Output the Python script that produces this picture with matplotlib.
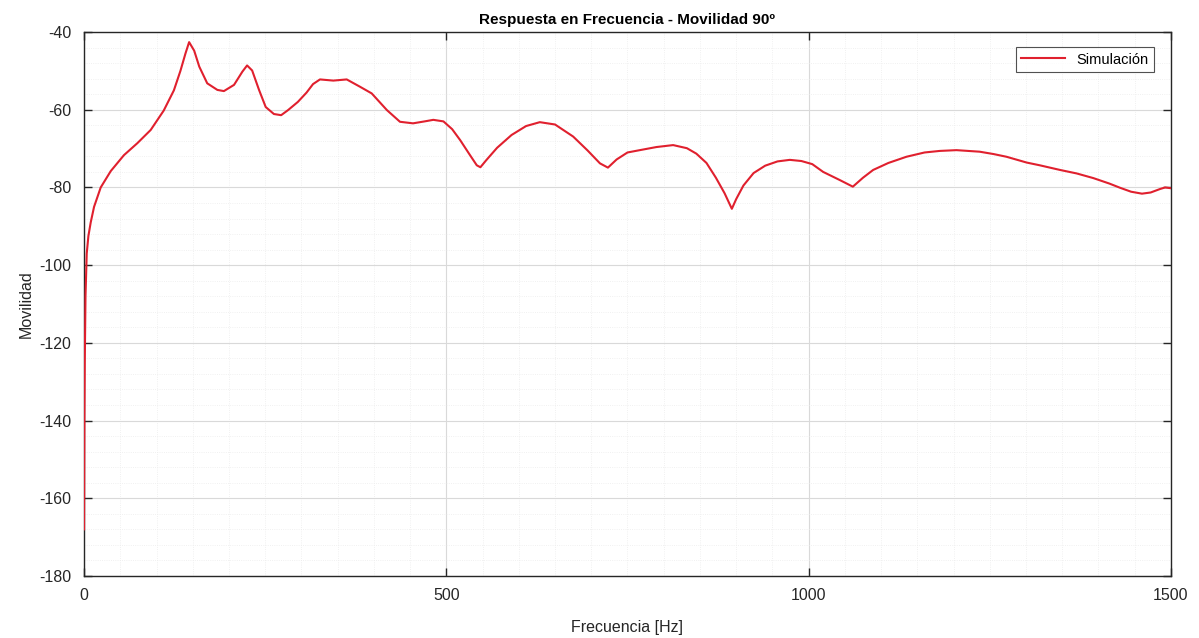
import matplotlib
matplotlib.use("Agg")
import matplotlib.pyplot as plt
from matplotlib.ticker import MultipleLocator

plt.rcParams['font.family'] = ['Liberation Sans', 'DejaVu Sans']
plt.rcParams['axes.unicode_minus'] = False

freq_hz = [0, 0.5, 1, 2, 3.7, 6, 9.2, 13.8, 23, 36.8, 55, 73.6, 92, 110, 124,
           133, 140, 145, 152, 159, 170, 184, 193, 207, 218.5, 225, 232,
           241.5, 250.7, 262, 272, 281.5, 295, 307, 316, 325.6, 344, 362.5,
           381, 397, 418, 436, 454, 470, 482, 496, 508, 519, 532, 542, 547,
           555, 570, 590, 610, 629, 650, 675, 695, 712, 723, 735, 750, 767,
           790, 813, 832, 845, 859, 872, 884, 894, 900, 910, 924, 940, 957,
           974, 990, 1005, 1020, 1043, 1061, 1075, 1089, 1110, 1135, 1160,
           1181, 1204, 1236, 1255, 1273, 1301, 1319, 1347, 1370, 1393, 1415,
           1430, 1445, 1460, 1472, 1485, 1492, 1500]
movilidad = [-168, -140, -125, -108, -97, -92.5, -89, -85, -80, -75.8, -71.7,
             -68.6, -65.2, -60.2, -55, -50, -45.5, -42.6, -44.8, -48.9, -53.2,
             -54.9, -55.2, -53.6, -50.2, -48.6, -49.9, -54.9, -59.3, -61.1,
             -61.4, -60.1, -58, -55.6, -53.4, -52.2, -52.5, -52.2, -54.1, -55.8,
             -60.1, -63.1, -63.5, -63.0, -62.6, -63.0, -65.0, -67.8, -71.5,
             -74.3, -74.8, -73.0, -69.8, -66.5, -64.2, -63.2, -63.8, -66.9,
             -70.5, -73.8, -74.9, -72.8, -71, -70.4, -69.6, -69.1, -69.9,
             -71.3, -73.7, -77.5, -81.5, -85.5, -83, -79.5, -76.3, -74.4,
             -73.3, -72.9, -73.2, -74.0, -76, -78.1, -79.8, -77.5, -75.5,
             -73.7, -72.1, -71.0, -70.6, -70.4, -70.8, -71.4, -72.1, -73.6,
             -74.3, -75.5, -76.4, -77.6, -79.0, -80.1, -81.1, -81.6, -81.3,
             -80.4, -80.0, -80.2]

title_text = "Respuesta en Frecuencia - Movilidad 90º"
xlabel_text = "Frecuencia [Hz]"
ylabel_text = "Movilidad"
legend_label = "Simulación"

fig = plt.figure(figsize=(11.99, 6.38), dpi=100)
ax = fig.add_axes([0.0701, 0.0972, 0.9065, 0.8526])

ax.plot(freq_hz, movilidad, color='#e0202e', linewidth=1.5, label=legend_label,
        solid_joinstyle='round', zorder=3)

ax.set_xlim(0, 1500)
ax.set_ylim(-180, -40)
ax.xaxis.set_major_locator(MultipleLocator(500))
ax.xaxis.set_minor_locator(MultipleLocator(50))
ax.yaxis.set_major_locator(MultipleLocator(20))
ax.yaxis.set_minor_locator(MultipleLocator(4))

ax.grid(True, which='major', color='#d9d9d9', linewidth=0.8)
ax.grid(True, which='minor', color='#ececec', linewidth=0.6, linestyle=':')
ax.set_axisbelow(True)

ax.tick_params(which='major', direction='in', length=6, width=1, colors='#262626',
               top=True, right=True, labelsize=11.5)
ax.tick_params(axis='x', which='major', pad=9)
ax.tick_params(axis='y', which='major', pad=9)
ax.tick_params(which='minor', length=0, top=True, right=True)
for s in ax.spines.values():
    s.set_color('#262626')
    s.set_linewidth(1.0)

ax.set_title(title_text, fontsize=11, fontweight='bold', pad=6)
ax.set_xlabel(xlabel_text, fontsize=11.5, labelpad=12, color='#262626')
ax.set_ylabel(ylabel_text, fontsize=11.5, labelpad=4, color='#262626')

leg = ax.legend(loc='upper right', fontsize=10.5, frameon=True, fancybox=False,
                edgecolor='#262626', borderpad=0.35, handlelength=3.0,
                bbox_to_anchor=(0.991, 0.985))
leg.get_frame().set_linewidth(0.8)

fig.savefig("out.png", dpi=100)
